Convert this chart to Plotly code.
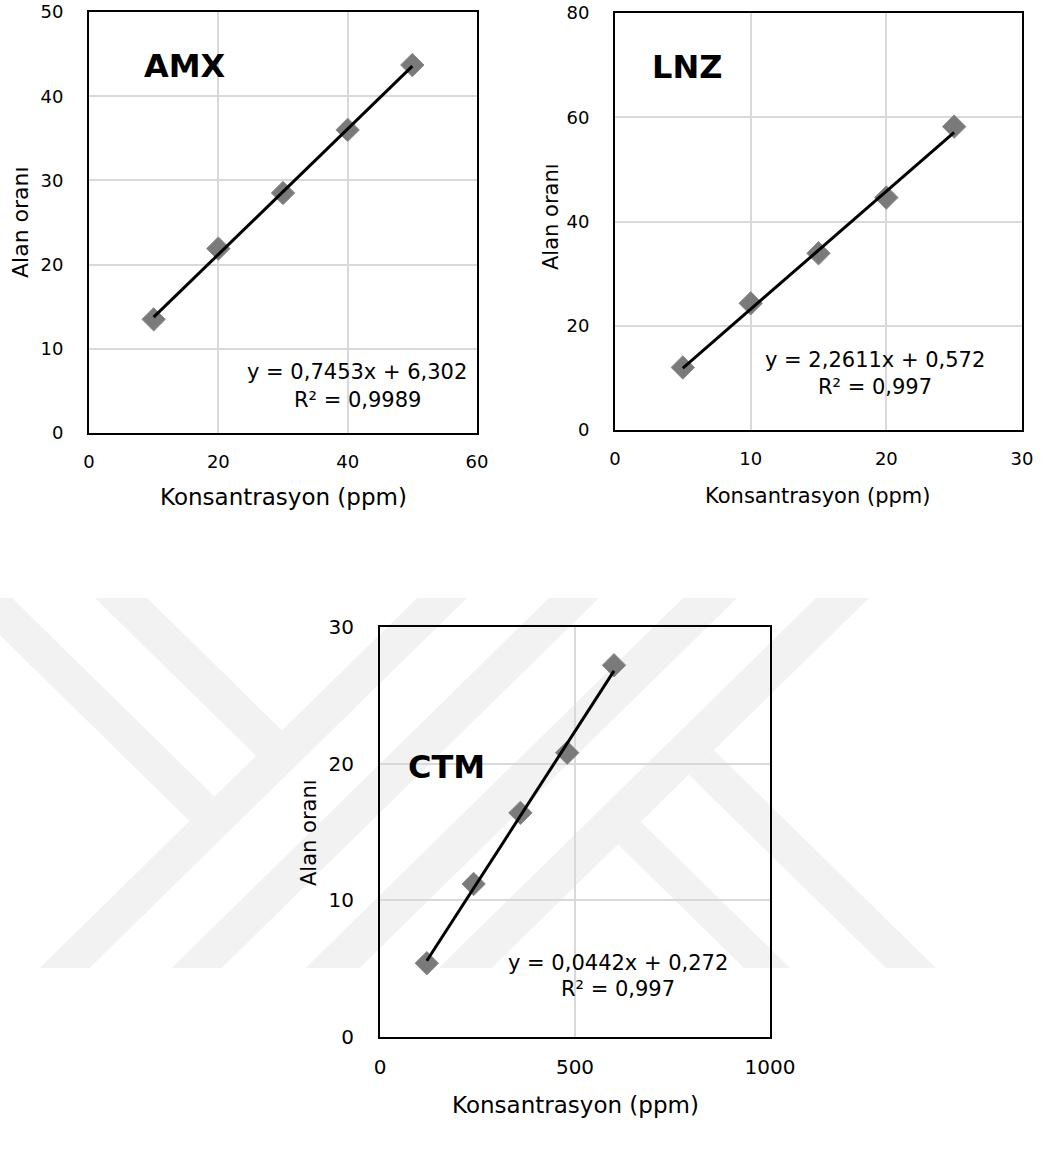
import plotly.graph_objects as go

W, H = 1052, 1169
FONT = "DejaVu Sans"

# ---------------- data ----------------
amx_conc = [10, 20, 30, 40, 50]
amx_ratio = [13.5, 21.9, 28.5, 36.0, 43.7]

lnz_conc = [5, 10, 15, 20, 25]
lnz_ratio = [12.0, 24.3, 33.9, 44.6, 58.2]

ctm_conc = [120, 240, 360, 480, 600]
ctm_ratio = [5.4, 11.2, 16.4, 20.8, 27.2]

fit_slopes = [0.7453, 2.2611, 0.0442]
fit_intercepts = [6.302, 0.572, 0.272]
fit_labels = ["y = 0,7453x + 6,302", "y = 2,2611x + 0,572", "y = 0,0442x + 0,272"]
r2_labels = ["R² = 0,9989", "R² = 0,997", "R² = 0,997"]
panel_names = ["AMX", "LNZ", "CTM"]
x_title = "Konsantrasyon (ppm)"
y_title = "Alan oranı"

x_ranges = [[0, 60], [0, 30], [0, 1000]]
x_dticks = [20, 10, 500]
y_ranges = [[0, 50], [0, 80], [0, 30]]
y_dticks = [10, 20, 10]

# ---------------- layout geometry (pixels) ----------------
frames = [  # x0, x1, y0(top), y1(bottom)
    (89, 477, 12, 433),
    (615, 1022, 13, 430),
    (380, 770, 627, 1037),
]
tick_sizes = [18, 18, 20]


def px(x):
    return x / W


def py(y):
    return 1 - y / H


fig = go.Figure()

series = [(amx_conc, amx_ratio), (lnz_conc, lnz_ratio), (ctm_conc, ctm_ratio)]

for i, (xs, ys) in enumerate(series):
    sfx = "" if i == 0 else str(i + 1)
    fig.add_trace(go.Scatter(
        x=xs, y=ys, mode="markers",
        marker=dict(symbol="diamond", size=18, color="#7a7a7a",
                    line=dict(width=1, color="#8a8a8a")),
        xaxis="x" + sfx, yaxis="y" + sfx, showlegend=False,
        hoverinfo="x+y",
    ))
    xl = [xs[0], xs[-1]]
    yl = [fit_intercepts[i] + fit_slopes[i] * v for v in xl]
    fig.add_trace(go.Scatter(
        x=xl, y=yl, mode="lines",
        line=dict(color="black", width=3),
        xaxis="x" + sfx, yaxis="y" + sfx, showlegend=False,
        hoverinfo="skip",
    ))

layout = dict(
    width=W, height=H, autosize=False,
    margin=dict(l=0, r=0, t=0, b=0, pad=0, autoexpand=False),
    paper_bgcolor="white",
    plot_bgcolor="rgba(0,0,0,0)",
    font=dict(family=FONT, color="black"),
    showlegend=False,
)

for i in range(3):
    x0, x1, y0, y1 = frames[i]
    sfx = "" if i == 0 else str(i + 1)
    common = dict(
        showline=True, linecolor="black", linewidth=2, mirror=True,
        showgrid=True, gridcolor="#d9d9d9", gridwidth=1.5,
        zeroline=False, ticks="", fixedrange=True, automargin=False,
        tickfont=dict(family=FONT, size=tick_sizes[i], color="black"),
    )
    layout["xaxis" + sfx] = dict(
        common, domain=[px(x0), px(x1)], range=x_ranges[i],
        tick0=0, dtick=x_dticks[i], anchor="y" + sfx, ticklabelstandoff=11,
    )
    layout["yaxis" + sfx] = dict(
        common, domain=[py(y1), py(y0)], range=y_ranges[i],
        tick0=0, dtick=y_dticks[i], anchor="x" + sfx, ticklabelstandoff=20,
    )

fig.update_layout(**layout)

# ---------------- annotations ----------------
ann = []
# panel names (bold)
name_pos = [(142, 66), (650, 67), (406, 767)]
for name, (x, y) in zip(panel_names, name_pos):
    ann.append(dict(text="<b>%s</b>" % name, x=px(x), y=py(y), xref="paper", yref="paper",
                    xanchor="left", yanchor="middle", showarrow=False,
                    font=dict(family=FONT, size=32, color="black")))

# equations
eq_pos = [(357, 372, 400), (875, 360, 387), (618, 963, 989)]
for lab, r2, (x, ya, yb) in zip(fit_labels, r2_labels, eq_pos):
    ann.append(dict(text=lab, x=px(x), y=py(ya), xref="paper", yref="paper",
                    xanchor="center", yanchor="middle", showarrow=False,
                    font=dict(family=FONT, size=21, color="black")))
    ann.append(dict(text=r2, x=px(x), y=py(yb), xref="paper", yref="paper",
                    xanchor="center", yanchor="middle", showarrow=False,
                    font=dict(family=FONT, size=21, color="black")))

# axis titles
xt_pos = [(283, 497, 23), (817, 496, 21), (575, 1105, 23)]
for (x, y, s) in xt_pos:
    ann.append(dict(text=x_title, x=px(x), y=py(y), xref="paper", yref="paper",
                    xanchor="center", yanchor="middle", showarrow=False,
                    font=dict(family=FONT, size=s, color="black")))
yt_pos = [(20, 222, 22), (551, 217, 21), (309, 833, 21)]
for (x, y, s) in yt_pos:
    ann.append(dict(text=y_title, x=px(x), y=py(y), xref="paper", yref="paper",
                    xanchor="center", yanchor="middle", showarrow=False, textangle=-90,
                    font=dict(family=FONT, size=s, color="black")))

fig.update_layout(annotations=ann)

# ---------------- faint background watermark ----------------
T, B = 598, 968
k = 1.02
shapes = []


def poly(points):
    p = "M " + " L ".join("%.5f,%.5f" % (px(a), py(b)) for a, b in points) + " Z"
    return dict(type="path", path=p, xref="paper", yref="paper",
                fillcolor="#f2f2f2", line=dict(width=0), layer="below")


# full-length "/" bands (top-left x, width)
for xl_, w in [(417, 50), (549, 50), (683, 54), (816, 53)]:
    d = (B - T) * k
    shapes.append(poly([(xl_, T), (xl_ + w, T), (xl_ + w - d, B), (xl_ - d, B)]))

# "\" bands from the top that stop at the left edge of the first "/" band
for xl_, w in [(-38, 50), (95, 52)]:
    dl = (417 - xl_) / (2 * k)
    dr = (417 - xl_ - w) / (2 * k)
    shapes.append(poly([(xl_, T), (xl_ + w, T),
                        (xl_ + w + dr * k, T + dr), (xl_ + dl * k, T + dl)]))

# "\" bands that start at the right edge of the last "/" band and run to the bottom
edge = 869  # right edge of last "/" band at top
for xb, w in [(744, 46), (886, 50)]:
    yl_ = (edge + T * k - xb + B * k) / (2 * k)
    yr_ = (edge + T * k - xb - w + B * k) / (2 * k)
    shapes.append(poly([(xb, B), (xb + w, B),
                        (edge - (yr_ - T) * k, yr_), (edge - (yl_ - T) * k, yl_)]))

fig.update_layout(shapes=shapes)

fig.write_html("out.html")
